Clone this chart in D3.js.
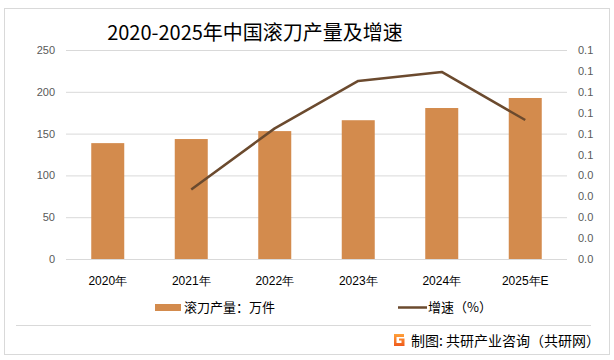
<!DOCTYPE html>
<html><head><meta charset="utf-8">
<script src="https://cdn.jsdelivr.net/npm/d3@7"></script>
<style>
body{margin:0;background:#fff;}
svg{display:block;font-family:"Noto Sans CJK SC","Microsoft YaHei",sans-serif;}
</style></head>
<body><svg id="c" width="614" height="360"></svg>
<script>
const categories = ["2020年","2021年","2022年","2023年","2024年","2025年E"];
const output = [138.6, 143.5, 153, 166, 180.6, 192.6];
const growth = [null, 0.0333, 0.0625, 0.0852, 0.0895, 0.0665];
const leftTicks = [0, 50, 100, 150, 200, 250];
const rightTicks = [0, 0.01, 0.02, 0.03, 0.04, 0.05, 0.06, 0.07, 0.08, 0.09, 0.10];
const rightTickLabels = ["0.0","0.0","0.0","0.0","0.0","0.1","0.1","0.1","0.1","0.1","0.1"];
const title = "2020-2025年中国滚刀产量及增速";
const legendLabels = ["滚刀产量：万件", "增速（%）"];
const source = "制图: 共研产业咨询（共研网）";

const svg = d3.select("#c");
const barColor = "#d38b4d", lineColor = "#6b4a2e";
const L = 66, R = 567, T = 50, B = 259;

svg.append("rect").attr("x",4.5).attr("y",8.5).attr("width",605).attr("height",346)
  .attr("fill","#fff").attr("stroke","#d9d9d9").attr("stroke-width",1);

svg.append("text").attr("x",255).attr("y",40).attr("text-anchor","middle")
  .attr("font-size",20).attr("fill","#000").text(title);

const x = d3.scaleBand().domain(categories).range([L,R]);
const yL = d3.scaleLinear().domain([0,250]).range([B,T]);
const yR = d3.scaleLinear().domain([0,0.1]).range([B,T]);

// gridlines
svg.append("g").selectAll("line").data(leftTicks).join("line")
  .attr("x1",L).attr("x2",R).attr("y1",d=>yL(d)+0.5).attr("y2",d=>yL(d)+0.5)
  .attr("stroke","#d9d9d9").attr("stroke-width",1);

// left axis
const ga = svg.append("g").attr("transform",`translate(${L},0)`)
  .call(d3.axisLeft(yL).tickValues(leftTicks).tickSize(0).tickPadding(11));
ga.select(".domain").remove();
ga.selectAll("text").attr("font-size",11).attr("fill","#595959").attr("font-family","Liberation Sans, Arial, sans-serif");

// right axis
const gr = svg.append("g").attr("transform",`translate(${R},0)`)
  .call(d3.axisRight(yR).tickValues(rightTicks).tickSize(0).tickPadding(11)
    .tickFormat((d,i)=>rightTickLabels[i]));
gr.select(".domain").remove();
gr.selectAll("text").attr("font-size",11).attr("fill","#595959").attr("font-family","Liberation Sans, Arial, sans-serif");

// x axis labels
const gx = svg.append("g").attr("transform",`translate(0,${B})`)
  .call(d3.axisBottom(x).tickSize(0).tickPadding(17));
gx.select(".domain").remove();
gx.selectAll("text").attr("font-size",12).attr("fill","#000");

// bars
const bw = 33;
svg.append("g").selectAll("rect").data(output).join("rect")
  .attr("x",(d,i)=>x(categories[i])+x.bandwidth()/2-bw/2)
  .attr("width",bw)
  .attr("y",d=>yL(d)).attr("height",d=>B-yL(d))
  .attr("fill",barColor);

// line
const pts = growth.map((g,i)=>({c:categories[i],g})).filter(d=>d.g!=null);
svg.append("path").datum(pts)
  .attr("d",d3.line().x(d=>x(d.c)+x.bandwidth()/2).y(d=>yR(d.g)))
  .attr("fill","none").attr("stroke",lineColor).attr("stroke-width",2.5)
  .attr("stroke-linejoin","round");

// legend
const lg = svg.append("g");
lg.append("rect").attr("x",155).attr("y",304).attr("width",26).attr("height",7).attr("fill",barColor);
lg.append("text").attr("x",184).attr("y",312).attr("font-size",13).attr("fill","#000").text(legendLabels[0]);
lg.append("line").attr("x1",398).attr("x2",427).attr("y1",307.5).attr("y2",307.5)
  .attr("stroke",lineColor).attr("stroke-width",2.5);
lg.append("text").attr("x",428).attr("y",312).attr("font-size",13).attr("fill","#000").text(legendLabels[1]);

// separator
svg.append("line").attr("x1",16).attr("x2",591).attr("y1",325.5).attr("y2",325.5)
  .attr("stroke","#d9d9d9").attr("stroke-width",1);

// logo
const logo = svg.append("g").attr("transform","translate(393,334)");
const grad = svg.append("defs").append("linearGradient").attr("id","lg1").attr("x1",0).attr("y1",0).attr("x2",0).attr("y2",1);
grad.append("stop").attr("offset","0%").attr("stop-color","#ffa13a");
grad.append("stop").attr("offset","100%").attr("stop-color","#ef5a1c");
logo.append("path").attr("d","M1,0 H11 V3 H3.5 V9 H8.5 V6.5 H6 V4.5 H11.5 V12 H1 Z")
  .attr("fill","url(#lg1)");
svg.append("text").attr("x",411).attr("y",346).attr("font-size",14).attr("fill","#000").text(source);
</script></body></html>
